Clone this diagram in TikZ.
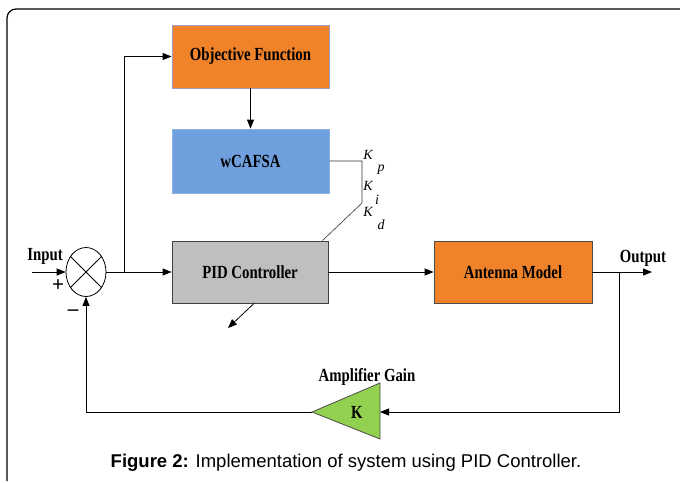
\documentclass[tikz,border=0pt]{standalone}
\usepackage{fontspec}
\setmainfont{Liberation Serif}
\newfontfamily\boxfont[FakeStretch=0.8]{Liberation Serif}
\newfontfamily\capfont{Liberation Sans}
\usepackage{tikz}
\usetikzlibrary{arrows.meta,positioning,calc,shapes.geometric}
\definecolor{blockorange}{HTML}{F0832A}
\definecolor{blockblue}{HTML}{6F9FDD}
\definecolor{blockgray}{HTML}{BFBFBF}
\definecolor{ampgreen}{HTML}{92D050}

\begin{document}
\begin{tikzpicture}[x=1pt, y=-1pt, >={Triangle[length=9pt,width=7pt]}, line width=0.8pt,
    block/.style={draw, minimum height=62pt, inner sep=0pt, font=\boxfont\bfseries\fontsize{18.5}{20}\selectfont},
    lbl/.style={font=\boxfont\bfseries\fontsize{18.5}{20}\selectfont, inner sep=0pt},
    gain/.style={font=\itshape\fontsize{14}{16}\selectfont, inner sep=0pt}]
    \useasboundingbox (0,0) rectangle (680,482);
    % Frame
    \draw[line width=1.2pt, rounded corners=9pt] (7,481) -- (7,9) -- (680,9);
    % Blocks
    \node[block, fill=blockorange, draw=blue!25!gray!60, minimum width=157pt, minimum height=63pt] (objective) at (250.5,56.5) {Objective Function};
    \node[block, fill=blockblue, draw=blockblue!80!white, minimum width=157pt, minimum height=64pt] (wcafsa) at (250.5,161) {wCAFSA};
    \node[block, fill=blockgray, draw=black!75, minimum width=156pt] (pid) at (250,272) {PID Controller};
    \node[block, fill=blockorange, draw=black!70, minimum width=158pt] (antenna) at (513,272) {Antenna Model};
    % Summing junction
    \node[draw, ellipse, minimum width=40pt, minimum height=49pt, inner sep=0pt] (sum) at (86,272) {};
    \draw (sum.135) -- (sum.-45);
    \draw (sum.45) -- (sum.-135);
    % Amplifier
    \draw[fill=ampgreen, draw=black!70] (380,383) -- (380,439) -- (312,412) -- cycle;
    \coordinate (ampin) at (380,412);
    \coordinate (ampout) at (312,412);
    \node[lbl] (ampk) at (357,412) {K};
    % Labels
    \node[lbl] (inlabel) at (45,256) {Input};
    \node[lbl, font=\bfseries\fontsize{21}{22}\selectfont] (pluslabel) at (58,286) {+};
    \node[lbl, font=\bfseries\fontsize{21}{22}\selectfont] (minuslabel) at (73,313) {\textendash};
    \node[lbl] (outlabel) at (643,258) {Output};
    \node[lbl] (amplabel) at (367,377) {Amplifier Gain};
    \node[gain] (kp) at (368,155) {K};
    \node[gain] (kpsub) at (381,170) {p};
    \node[gain] (ki) at (368,186) {K};
    \node[gain] (kisub) at (377,200) {i};
    \node[gain] (kd) at (368,212) {K};
    \node[gain] (kdsub) at (381,225) {d};
    % Signal path
    \coordinate (instart) at (32,272);
    \coordinate (split) at (124,272);
    \coordinate (outsplit) at (619,272);
    \coordinate (outend) at (652,272);
    \coordinate (kbend) at (362,203);
    \coordinate (pidtip) at (228,328);
    \draw[->] (instart) -- (sum.west);
    \draw[->] (sum.east) -- (pid.west);
    \draw[->] (split) |- (objective.west);
    \draw[->] (objective.south) -- (wcafsa.north);
    \draw[->] (pid.east) -- (antenna.west);
    \draw[->] (antenna.east) -- (outend);
    \draw[->] (outsplit) |- (ampin);
    \draw[->] (ampout) -| (sum.south);
    \draw[line width=0.6pt, black!80] (wcafsa.east) -| (kbend) -- ([xshift=-6pt]pid.north east);
    \draw[->] ([xshift=4pt]pid.south) -- (pidtip);
    % Caption
    \node[font=\capfont\fontsize{18.5}{20}\selectfont] (caption) at (346,463) {\textbf{Figure 2:} Implementation of system using PID Controller.};
\end{tikzpicture}
\end{document}
